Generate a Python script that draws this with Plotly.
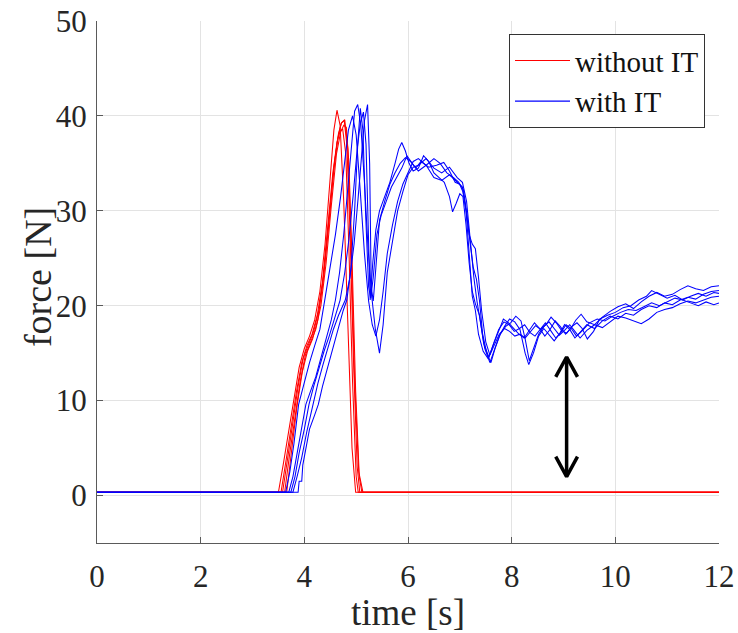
import plotly.graph_objects as go

# Force measurements, trials without IT (red)
t_red1 = [0, 3.50, 3.60, 3.70, 3.80, 3.90, 4.00, 4.10, 4.20, 4.30, 4.40, 4.50, 4.57, 4.63, 4.69, 4.76, 4.84, 4.92, 4.99, 12]
f_red1 = [0.35, 0.35, 3.5, 7.0, 10.5, 13.5, 15.5, 16.8, 18.5, 21.5, 26.5, 33.5, 38.5, 40.6, 39.0, 31.0, 17.0, 5.0, 0.35, 0.35]
t_red2 = [0, 3.58, 3.68, 3.78, 3.88, 3.98, 4.08, 4.18, 4.28, 4.38, 4.48, 4.58, 4.66, 4.72, 4.77, 4.82, 4.88, 4.95, 5.02, 5.07, 12]
f_red2 = [0.35, 0.35, 4.0, 8.0, 11.5, 14.5, 16.0, 17.3, 19.5, 23.5, 29.0, 35.0, 38.2, 39.3, 39.5, 37.0, 28.0, 14.0, 3.0, 0.35, 0.35]
t_red3 = [0, 3.62, 3.72, 3.82, 3.92, 4.02, 4.12, 4.22, 4.32, 4.42, 4.52, 4.62, 4.70, 4.76, 4.81, 4.86, 4.92, 4.99, 5.06, 5.11, 12]
f_red3 = [0.35, 0.35, 4.5, 8.5, 12.0, 14.8, 16.2, 17.5, 20.0, 24.5, 30.5, 36.0, 38.3, 39.0, 38.8, 35.0, 25.0, 11.0, 2.0, 0.35, 0.35]
t_red4 = [0, 3.66, 3.76, 3.86, 3.96, 4.06, 4.16, 4.26, 4.36, 4.46, 4.56, 4.64, 4.71, 4.78, 4.84, 4.90, 4.97, 5.05, 5.13, 12]
f_red4 = [0.35, 0.35, 5.0, 9.5, 13.0, 15.2, 16.5, 18.5, 22.5, 28.0, 34.0, 37.5, 39.2, 39.6, 36.5, 27.0, 12.0, 2.5, 0.35, 0.35]
t_red5 = [0, 3.55, 3.65, 3.75, 3.85, 3.95, 4.05, 4.15, 4.25, 4.35, 4.45, 4.55, 4.63, 4.69, 4.74, 4.80, 4.86, 4.93, 5.00, 5.04, 12]
f_red5 = [0.35, 0.35, 3.8, 7.5, 11.0, 14.0, 15.8, 17.0, 19.0, 22.5, 28.0, 34.0, 37.2, 38.4, 38.6, 36.0, 26.0, 12.0, 2.0, 0.35, 0.35]

# Force measurements, trials with IT (blue)
t_blue1 = [0, 3.64, 3.72, 3.80, 3.89, 4.00, 4.10, 4.20, 4.30, 4.40, 4.50, 4.60, 4.70, 4.78, 4.85, 4.93, 5.00, 5.08,
           5.16, 5.24, 5.31, 5.38, 5.45, 5.52, 5.60, 5.70, 5.80, 5.90, 6.00, 6.10, 6.20, 6.35, 6.50, 6.65, 6.80,
           6.95, 7.05, 7.12, 7.18, 7.24, 7.30, 7.36, 7.45, 7.55, 7.65, 7.75, 7.85, 7.95, 8.05, 8.15, 8.25, 8.35,
           8.45, 8.55, 8.65, 8.75, 8.85, 8.95, 9.05, 9.15, 9.25, 9.35, 9.50, 9.65, 9.80, 9.95, 10.10, 10.25,
           10.40, 10.55, 10.70, 10.85, 11.00, 11.15, 11.30, 11.45, 11.60, 11.75, 11.90, 12.0]
f_blue1 = [0.35, 0.35, 2.5, 5.5, 9.6, 12.0, 14.0, 15.8, 17.5, 20.8, 24.0, 27.5, 31.5, 35.5, 38.5, 40.0, 38.0, 32.0,
           25.5, 20.5, 18.0, 16.8, 18.5, 21.5, 25.5, 28.5, 31.0, 32.8, 34.0, 35.2, 35.5, 34.8, 33.5, 33.2, 33.8,
           33.0, 32.5, 30.0, 25.0, 21.0, 19.5, 17.0, 15.2, 14.4, 16.0, 17.5, 18.3, 18.0, 17.3, 17.6, 18.0, 17.2,
           16.8, 17.5, 18.2, 17.4, 16.6, 17.2, 18.0, 17.6, 16.8, 17.3, 18.2, 18.6, 18.4, 18.9, 19.3, 19.6,
           19.5, 19.9, 20.3, 20.0, 20.4, 20.8, 20.6, 21.0, 21.3, 21.0, 21.4, 21.3]
t_blue2 = [0, 3.70, 3.78, 3.86, 3.95, 4.03, 4.12, 4.22, 4.32, 4.42, 4.52, 4.60, 4.68, 4.76, 4.84, 4.91, 4.97, 5.03,
           5.09, 5.16, 5.23, 5.30, 5.37, 5.45, 5.52, 5.60, 5.70, 5.80, 5.90, 6.00, 6.10, 6.20, 6.35, 6.50, 6.65,
           6.80, 6.95, 7.05, 7.13, 7.20, 7.27, 7.33, 7.40, 7.48, 7.58, 7.66, 7.76, 7.86, 7.96, 8.06, 8.16, 8.26,
           8.33, 8.42, 8.52, 8.62, 8.72, 8.82, 8.92, 9.02, 9.12, 9.22, 9.32, 9.45, 9.60, 9.75, 9.90, 10.05, 10.20,
           10.35, 10.50, 10.65, 10.80, 10.95, 11.10, 11.25, 11.40, 11.55, 11.70, 11.85, 12.0]
f_blue2 = [0.35, 0.35, 2.0, 4.5, 7.0, 9.6, 11.0, 12.5, 14.5, 16.5, 18.5, 20.6, 23.5, 27.5, 32.5, 37.5, 40.5, 41.2,
           39.0, 33.0, 26.0, 21.0, 17.5, 15.0, 18.0, 23.5, 27.0, 30.0, 32.0, 33.8, 34.6, 34.8, 35.5, 34.5, 34.0,
           34.6, 33.5, 33.0, 31.0, 27.0, 23.0, 20.5, 18.0, 15.5, 14.0, 15.2, 16.8, 17.8, 18.6, 18.3, 17.5, 15.0,
           13.8, 15.0, 16.8, 17.6, 17.0, 16.3, 17.0, 18.0, 17.5, 16.6, 17.2, 18.0, 17.6, 18.4, 18.9, 18.6, 19.2,
           19.0, 19.6, 20.0, 19.8, 20.3, 20.1, 20.6, 20.9, 20.7, 21.2, 21.5, 21.6]
t_blue3 = [0, 3.74, 3.82, 3.90, 4.00, 4.09, 4.18, 4.28, 4.38, 4.48, 4.58, 4.69, 4.78, 4.86, 4.94, 5.02, 5.08, 5.14,
           5.19, 5.23, 5.27, 5.32, 5.38, 5.45, 5.55, 5.65, 5.75, 5.82, 5.88, 5.95, 6.02, 6.10, 6.20, 6.30, 6.40,
           6.50, 6.60, 6.70, 6.80, 6.86, 6.93, 7.00, 7.06, 7.12, 7.18, 7.24, 7.30, 7.38, 7.46, 7.56, 7.64, 7.74,
           7.84, 7.94, 8.04, 8.14, 8.24, 8.34, 8.44, 8.54, 8.64, 8.74, 8.84, 8.94, 9.04, 9.14, 9.24, 9.34, 9.45,
           9.60, 9.75, 9.90, 10.05, 10.20, 10.35, 10.50, 10.65, 10.80, 10.95, 11.10, 11.25, 11.40, 11.55, 11.70,
           11.85, 12.0]
f_blue3 = [0.35, 0.35, 2.0, 4.5, 7.0, 9.6, 11.5, 13.5, 15.2, 16.8, 18.5, 20.6, 23.5, 27.0, 31.5, 36.5, 39.2, 40.4,
           37.0, 28.0, 20.6, 24.5, 28.0, 30.0, 31.5, 33.0, 35.0, 36.5, 37.2, 36.3, 35.0, 34.2, 34.5, 35.8, 35.2,
           34.0, 33.5, 33.0, 31.5, 29.9, 30.8, 31.8, 31.5, 28.5, 24.5, 21.5, 20.2, 19.0, 16.0, 14.6, 15.8, 17.2,
           18.6, 18.2, 17.6, 17.0, 16.6, 17.4, 18.2, 17.6, 16.8, 17.5, 18.4, 17.8, 17.0, 17.6, 18.5, 19.1, 18.3,
           18.0, 18.8, 19.4, 19.9, 20.2, 19.7, 20.4, 21.0, 21.4, 21.0, 21.2, 21.7, 22.1, 21.8, 21.6,
           22.0, 22.1]
t_blue4 = [0, 3.78, 3.86, 3.95, 4.05, 4.16, 4.26, 4.36, 4.46, 4.56, 4.66, 4.79, 4.88, 4.96, 5.04, 5.10, 5.16, 5.22,
           5.26, 5.29, 5.33, 5.38, 5.45, 5.55, 5.65, 5.75, 5.85, 5.95, 6.05, 6.15, 6.25, 6.40, 6.55, 6.69, 6.80,
           6.91, 7.00, 7.07, 7.14, 7.20, 7.26, 7.32, 7.38, 7.44, 7.52, 7.60, 7.68, 7.78, 7.88, 7.98, 8.08, 8.18,
           8.26, 8.34, 8.42, 8.52, 8.62, 8.72, 8.82, 8.92, 9.02, 9.12, 9.22, 9.32, 9.45, 9.60, 9.75, 9.90, 10.05,
           10.20, 10.35, 10.50, 10.65, 10.80, 10.95, 11.10, 11.25, 11.40, 11.55, 11.70, 11.85, 12.0]
f_blue4 = [0.35, 0.35, 2.0, 4.0, 6.8, 9.6, 11.8, 13.8, 15.8, 17.5, 19.0, 20.6, 23.0, 26.5, 31.5, 36.0, 39.5, 41.2,
           35.0, 22.0, 20.5, 24.0, 29.0, 31.0, 32.8, 34.0, 35.0, 35.6, 35.2, 34.5, 35.2, 34.6, 34.8, 35.1, 34.2,
           33.0, 32.8, 32.2, 29.5, 26.5, 24.0, 22.8, 20.5, 17.0, 15.0, 14.0, 15.5, 17.0, 17.8, 18.2, 18.9, 18.4,
           16.5, 14.2, 15.5, 17.0, 17.8, 18.3, 17.6, 16.9, 17.4, 18.0, 17.3, 16.6, 17.4, 18.0, 17.7, 18.3, 18.9,
           18.7, 18.4, 18.1, 18.6, 19.3, 19.6, 19.8, 20.2, 20.5, 20.3, 20.6, 20.9, 21.0]
t_blue5 = [0, 3.88, 3.90, 3.95, 3.97, 4.05, 4.10, 4.20, 4.27, 4.35, 4.45, 4.55, 4.65, 4.75, 4.82, 4.90, 4.97, 5.03,
           5.08, 5.13, 5.18, 5.24, 5.28, 5.33, 5.40, 5.48, 5.58, 5.68, 5.78, 5.88, 5.98, 6.08, 6.20, 6.35, 6.50,
           6.62, 6.75, 6.88, 6.98, 7.06, 7.12, 7.18, 7.24, 7.30, 7.36, 7.42, 7.50, 7.58, 7.66, 7.76, 7.86, 7.96,
           8.06, 8.16, 8.26, 8.36, 8.46, 8.56, 8.66, 8.76, 8.86, 8.96, 9.06, 9.16, 9.26, 9.36, 9.46, 9.58, 9.70,
           9.85, 10.00, 10.15, 10.30, 10.45, 10.60, 10.70, 10.85, 11.00, 11.15, 11.30, 11.45, 11.60, 11.75, 11.90,
           12.0]
f_blue5 = [0.35, 0.35, 1.5, 1.5, 3.2, 5.5, 7.0, 8.5, 9.6, 11.5, 13.5, 15.5, 17.5, 19.5, 20.6, 24.0, 30.0, 37.0,
           40.8, 38.5, 30.0, 22.0, 20.8, 23.0, 27.5, 29.5, 31.0, 32.5, 33.5, 34.5, 35.8, 35.0, 34.2, 34.8, 35.5,
           35.0, 34.0, 33.5, 33.0, 32.0, 30.0, 27.5, 26.5, 26.0, 23.0, 19.5, 16.2, 14.8, 15.8, 17.0, 17.6, 17.3,
           16.8, 17.0, 16.6, 17.3, 17.9, 17.5, 18.0, 18.8, 18.2, 17.4, 17.1, 17.8, 18.2, 17.6, 16.5, 17.3, 18.6,
           19.0, 19.3, 19.8, 20.0, 20.6, 21.0, 21.6, 21.2, 20.8, 21.1, 20.6, 20.3, 20.0, 20.4, 20.1,
           20.3]

red_runs = [(t_red1, f_red1), (t_red2, f_red2), (t_red3, f_red3), (t_red4, f_red4), (t_red5, f_red5)]
blue_runs = [(t_blue1, f_blue1), (t_blue2, f_blue2), (t_blue3, f_blue3), (t_blue4, f_blue4), (t_blue5, f_blue5)]

# double arrow marking the force difference
arrow_t = 9.06
arrow_low = 2.0
arrow_high = 14.6
head_dt = 0.21
head_df = 2.1

FONT = "Liberation Serif"

fig = go.Figure()

for i, (t, f) in enumerate(red_runs):
    fig.add_trace(go.Scatter(x=t, y=f, mode="lines", line=dict(color="#ff0000", width=1.05),
                             name="without IT", legendgroup="red", showlegend=(i == 0)))
for i, (t, f) in enumerate(blue_runs):
    fig.add_trace(go.Scatter(x=t, y=f, mode="lines", line=dict(color="#0000ff", width=1.05),
                             name="with IT", legendgroup="blue", showlegend=(i == 0)))

ax = [arrow_t, arrow_t, None,
      arrow_t - head_dt, arrow_t, arrow_t + head_dt, None,
      arrow_t - head_dt, arrow_t, arrow_t + head_dt]
ay = [arrow_low, arrow_high, None,
      arrow_high - head_df, arrow_high, arrow_high - head_df, None,
      arrow_low + head_df, arrow_low, arrow_low + head_df]
fig.add_trace(go.Scatter(x=ax, y=ay, mode="lines", line=dict(color="black", width=3.5),
                         showlegend=False, hoverinfo="skip"))

axis_style = dict(
    showgrid=True, gridcolor="#e3e3e3", gridwidth=1,
    showline=True, linecolor="#5a5a5a", linewidth=1.3,
    ticks="inside", ticklen=6, tickcolor="#5a5a5a",
    zeroline=False, mirror=False, automargin=False,
    tickfont=dict(family=FONT, size=31, color="#262626"),
)

fig.update_layout(
    width=738, height=633,
    margin=dict(l=97, r=19, t=21, b=90),
    paper_bgcolor="white", plot_bgcolor="white",
    font=dict(family=FONT, color="#262626"),
    xaxis=dict(range=[0, 12], dtick=2, ticklabelstandoff=6,
               title=dict(text="time [s]", font=dict(family=FONT, size=37), standoff=4),
               **axis_style),
    yaxis=dict(range=[-5, 50], dtick=10, ticklabelstandoff=3, **axis_style),
    legend=dict(x=0.9775, y=0.975, xanchor="right", yanchor="top",
                bgcolor="white", bordercolor="#333333", borderwidth=1,
                font=dict(family=FONT, size=29, color="#111111"),
                itemwidth=55, tracegroupgap=0),
)

# y-axis title placed as annotation so it sits close to the tick labels
fig.add_annotation(text="force [N]", xref="paper", yref="paper", x=-0.096, y=0.51,
                   xanchor="center", yanchor="middle", textangle=-90, showarrow=False,
                   font=dict(family=FONT, size=38, color="#262626"))

fig.write_html("out.html", config={"displayModeBar": False},
               post_script="document.body.style.margin='0px';")
